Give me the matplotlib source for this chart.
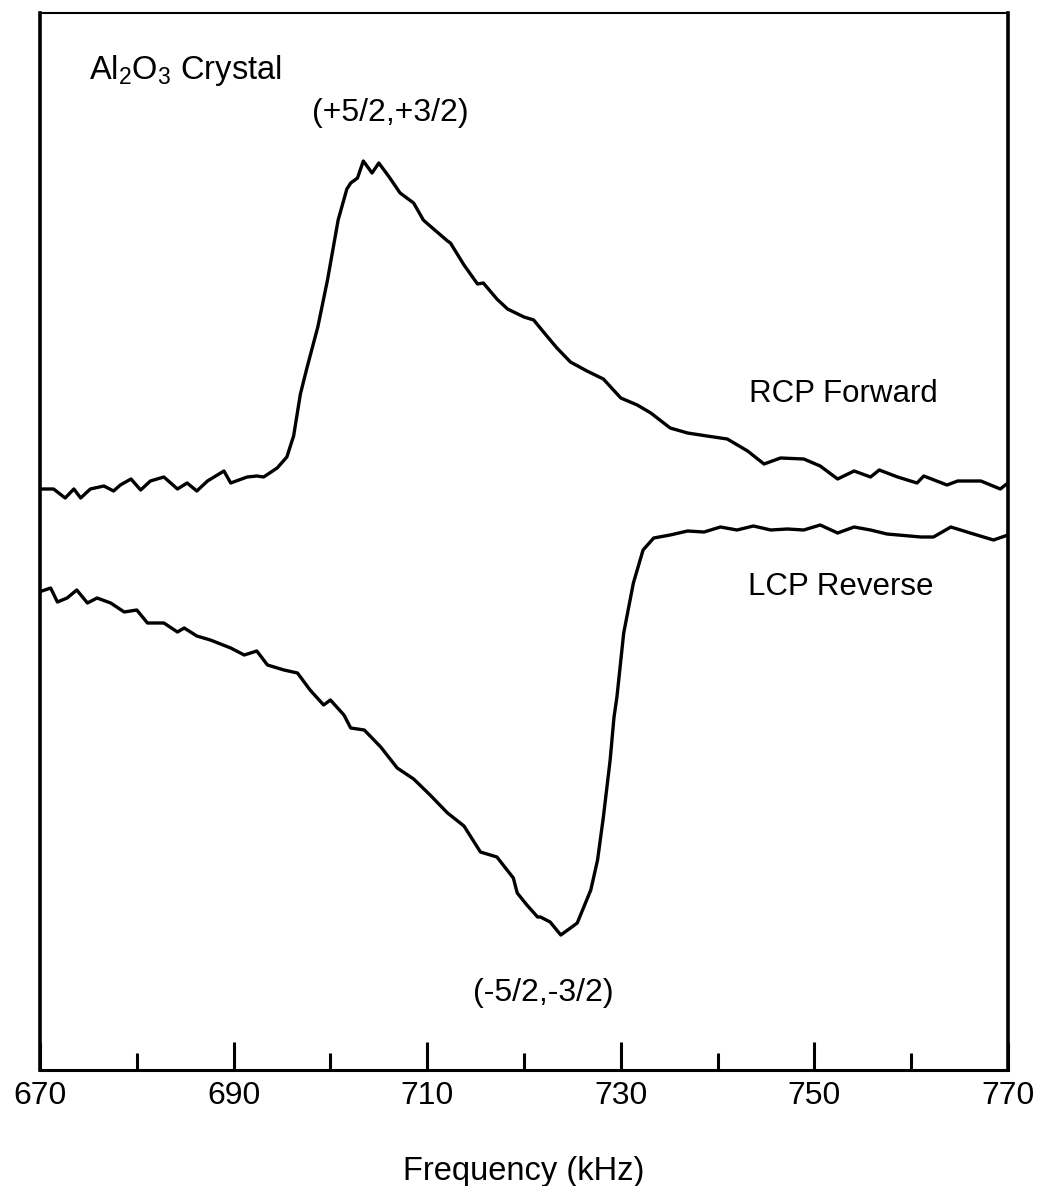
import matplotlib
matplotlib.use("Agg")
import matplotlib.pyplot as plt

# =========================================================
# DATA (frequency in kHz, signal in arbitrary units)
# =========================================================

rcp_freq = [670.2, 671.4, 672.6, 673.5, 674.2, 675.2, 676.6, 677.6, 678.3, 679.4,
            680.4, 681.4, 682.8, 684.2, 685.2, 686.2, 687.3, 689.0, 689.7, 691.4,
            692.4, 693.1, 694.5, 695.5, 696.2, 696.9, 697.6, 698.7, 699.7, 700.8,
            701.7, 702.1, 702.8, 703.4, 704.3, 705.0, 706.0, 707.2, 708.6, 709.6,
            710.3, 712.1, 712.4, 713.8, 715.2, 715.8, 717.2, 718.3, 720.0, 721.0,
            722.1, 723.4, 724.8, 726.5, 728.2, 730.0, 731.7, 733.1, 735.1, 736.9,
            738.9, 741.0, 743.1, 744.8, 746.5, 748.9, 750.6, 752.4, 754.1, 755.8,
            756.7, 758.6, 760.6, 761.3, 763.7, 764.8, 767.2, 769.2, 770.0]
rcp_signal = [581, 581, 572, 581, 572, 581, 584, 579, 585, 591,
              580, 589, 593, 581, 587, 579, 589, 599, 587, 593,
              594, 593, 602, 613, 634, 676, 703, 743, 790, 850,
              881, 887, 892, 909, 897, 907, 894, 877, 867, 850,
              844, 829, 827, 805, 786, 787, 771, 761, 753, 750,
              737, 722, 708, 699, 691, 672, 665, 657, 642, 637,
              634, 631, 619, 606, 612, 611, 604, 591, 599, 593,
              600, 593, 587, 594, 585, 589, 589, 581, 587]

lcp_freq = [670.2, 671.1, 671.8, 672.8, 673.8, 674.9, 675.9, 677.3, 678.7, 680.0,
            681.1, 682.8, 684.2, 684.9, 686.2, 687.6, 689.7, 691.1, 692.4, 693.5,
            695.2, 696.6, 697.9, 699.3, 700.0, 701.4, 702.1, 703.5, 705.2, 706.9,
            708.6, 710.3, 712.1, 713.8, 715.5, 717.2, 718.9, 719.3, 720.3, 721.4,
            721.7, 722.7, 723.8, 724.8, 725.5, 726.9, 727.6, 728.2, 728.9, 729.3,
            729.6, 730.3, 731.3, 732.3, 733.4, 735.1, 736.9, 738.6, 740.3, 742.0,
            743.7, 745.5, 747.2, 748.9, 750.6, 752.4, 754.1, 755.8, 757.5, 761.0,
            762.3, 764.1, 766.1, 768.5, 770.0]
lcp_signal = [479, 482, 468, 472, 480, 467, 472, 467, 458, 460,
              447, 447, 438, 442, 434, 430, 422, 415, 419, 405,
              400, 397, 380, 365, 370, 355, 342, 340, 323, 302,
              291, 275, 257, 244, 218, 213, 192, 177, 165, 153,
              153, 148, 135, 142, 147, 180, 210, 253, 310, 353,
              373, 437, 487, 520, 532, 535, 539, 538, 543, 540,
              544, 540, 541, 540, 545, 537, 543, 540, 536, 533,
              533, 543, 537, 530, 535]

major_ticks = [670, 690, 710, 730, 750, 770]
minor_ticks = [680, 700, 720, 740, 760]

# =========================================================
# STYLE
# =========================================================

plt.rcParams["font.family"] = ["Liberation Sans", "DejaVu Sans"]
plt.rcParams["mathtext.fontset"] = "custom"
plt.rcParams["mathtext.rm"] = "Liberation Sans"
plt.rcParams["mathtext.it"] = "Liberation Sans:italic"

fig = plt.figure(figsize=(10.37, 11.86), dpi=100)
ax = fig.add_axes([40 / 1037, 116 / 1186, 968 / 1037, 1057 / 1186])

ax.plot(rcp_freq, rcp_signal, color="black", lw=2.4)
ax.plot(lcp_freq, lcp_signal, color="black", lw=2.4)

ax.set_xlim(670, 770)
ax.set_ylim(0, 1057)

ax.set_xticks(major_ticks)
ax.set_xticks(minor_ticks, minor=True)
ax.set_yticks([])
ax.tick_params(axis="x", which="major", direction="in", length=20, width=2.2,
               labelsize=23, pad=8)
ax.tick_params(axis="x", which="minor", direction="in", length=12, width=2.2)

ax.spines["left"].set_linewidth(2.6)
ax.spines["right"].set_linewidth(2.6)
ax.spines["bottom"].set_linewidth(2.2)
ax.spines["top"].set_linewidth(1.5)

ax.set_xlabel("Frequency (kHz)", fontsize=23.5, labelpad=32)

# =========================================================
# ANNOTATIONS
# =========================================================

ax.text(675.1, 1000, r"Al$_\mathrm{2}$O$_\mathrm{3}$ Crystal", fontsize=23.5,
        ha="left", va="center")
ax.text(706.2, 957, "(+5/2,+3/2)", fontsize=23, ha="center", va="center")
ax.text(743.2, 676, "RCP Forward", fontsize=22.5, ha="left", va="center")
ax.text(743.1, 483, "LCP Reverse", fontsize=22.5, ha="left", va="center")
ax.text(722.0, 77, "(-5/2,-3/2)", fontsize=23, ha="center", va="center")

fig.savefig("out.png", dpi=100)
plt.close(fig)
